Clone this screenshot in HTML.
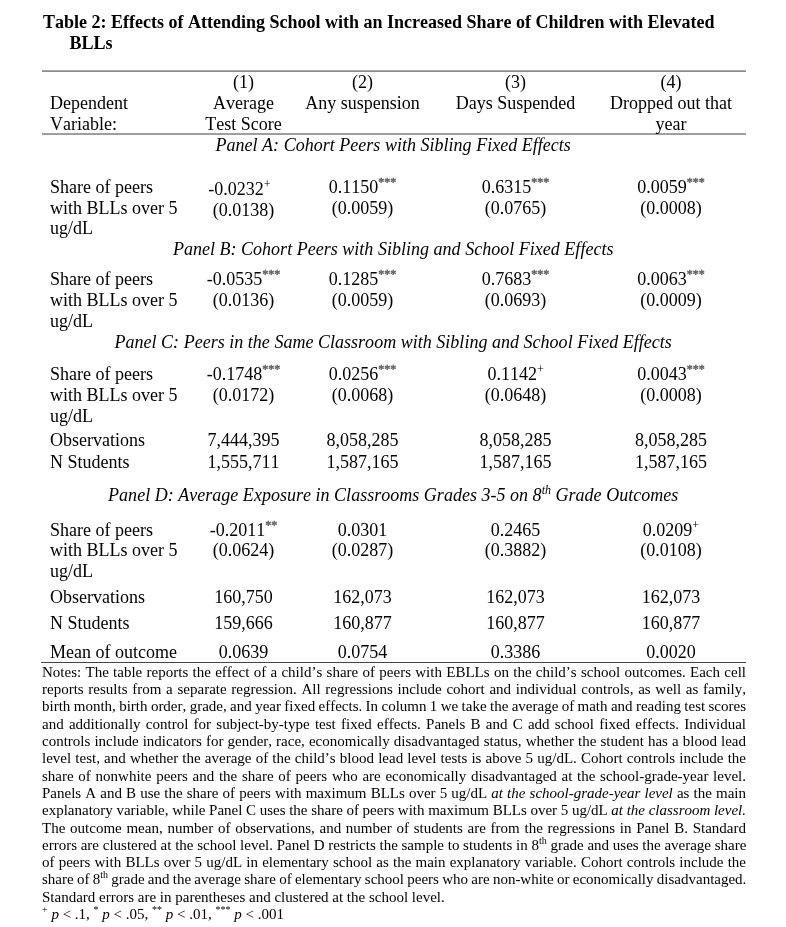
<!DOCTYPE html>
<html><head><meta charset="utf-8"><title>Table 2</title>
<style>
html,body{margin:0;padding:0;background:#fff;}
body{width:786px;height:927px;position:relative;overflow:hidden;font-family:"Liberation Serif","Times New Roman",serif;color:#000;font-kerning:none;filter:grayscale(1);}
.l{position:absolute;font-size:18px;line-height:20px;white-space:nowrap;}
.t{position:absolute;font-size:18px;line-height:20px;font-weight:bold;white-space:nowrap;}
.i{font-style:italic;}
.r{position:absolute;}
.s{font-size:12px;line-height:0;position:relative;top:-7.0px;}
.st{-webkit-text-stroke:0.5px #666;color:#555;}
.n{position:absolute;left:42px;width:704px;font-size:15px;line-height:17.25px;white-space:nowrap;}
.ns{font-size:10px;line-height:0;position:relative;top:-6px;}
</style></head>
<body>
<div class="t" style="top:12.00px;left:43px">Table 2: Effects of Attending School with an Increased Share of Children with Elevated</div>
<div class="t" style="top:33.00px;left:69.5px">BLLs</div>
<div class="r" style="top:70px;left:42px;width:704px;height:1px;background:#a8a8a8"></div>
<div class="r" style="top:71px;left:42px;width:704px;height:1px;background:#8c8c8c"></div>
<div class="r" style="top:133px;left:42px;width:704px;height:1px;background:#a0a0a0"></div>
<div class="r" style="top:134px;left:42px;width:704px;height:1px;background:#9c9c9c"></div>
<div class="r" style="top:662px;left:41px;width:705px;height:1px;background:#444444"></div>
<div class="l " style="top:72.00px;left:43.60px;width:400px;text-align:center;">(1)</div>
<div class="l " style="top:72.00px;left:162.60px;width:400px;text-align:center;">(2)</div>
<div class="l " style="top:72.00px;left:315.60px;width:400px;text-align:center;">(3)</div>
<div class="l " style="top:72.00px;left:471.00px;width:400px;text-align:center;">(4)</div>
<div class="l " style="top:93.00px;left:50.00px;">Dependent</div>
<div class="l " style="top:114.00px;left:50.00px;">Variable:</div>
<div class="l " style="top:93.00px;left:43.60px;width:400px;text-align:center;">Average</div>
<div class="l " style="top:114.00px;left:43.60px;width:400px;text-align:center;">Test Score</div>
<div class="l " style="top:93.00px;left:162.60px;width:400px;text-align:center;">Any suspension</div>
<div class="l " style="top:93.00px;left:315.60px;width:400px;text-align:center;">Days Suspended</div>
<div class="l " style="top:93.00px;left:471.00px;width:400px;text-align:center;">Dropped out that</div>
<div class="l " style="top:114.00px;left:471.00px;width:400px;text-align:center;">year</div>
<div class="l i" style="top:135.00px;left:43.20px;width:700px;text-align:center;letter-spacing:0.02px;">Panel A: Cohort Peers with Sibling Fixed Effects</div>
<div class="l " style="top:177.00px;left:50.00px;">Share of peers</div>
<div class="l " style="top:198.00px;left:50.00px;">with BLLs over 5</div>
<div class="l " style="top:218.00px;left:50.00px;">ug/dL</div>
<div class="l " style="top:179.00px;left:39.40px;width:400px;text-align:center;">-0.0232<span class="s">+</span></div>
<div class="l " style="top:200.00px;left:43.60px;width:400px;text-align:center;">(0.0138)</div>
<div class="l " style="top:177.00px;left:162.60px;width:400px;text-align:center;">0.1150<span class="s st">***</span></div>
<div class="l " style="top:198.00px;left:162.60px;width:400px;text-align:center;">(0.0059)</div>
<div class="l " style="top:177.00px;left:315.60px;width:400px;text-align:center;">0.6315<span class="s st">***</span></div>
<div class="l " style="top:198.00px;left:315.60px;width:400px;text-align:center;">(0.0765)</div>
<div class="l " style="top:177.00px;left:471.00px;width:400px;text-align:center;">0.0059<span class="s st">***</span></div>
<div class="l " style="top:198.00px;left:471.00px;width:400px;text-align:center;">(0.0008)</div>
<div class="l i" style="top:239.00px;left:43.20px;width:700px;text-align:center;letter-spacing:0.02px;">Panel B: Cohort Peers with Sibling and School Fixed Effects</div>
<div class="l " style="top:269.00px;left:50.00px;">Share of peers</div>
<div class="l " style="top:290.00px;left:50.00px;">with BLLs over 5</div>
<div class="l " style="top:311.00px;left:50.00px;">ug/dL</div>
<div class="l " style="top:269.00px;left:43.60px;width:400px;text-align:center;">-0.0535<span class="s st">***</span></div>
<div class="l " style="top:290.00px;left:43.60px;width:400px;text-align:center;">(0.0136)</div>
<div class="l " style="top:269.00px;left:162.60px;width:400px;text-align:center;">0.1285<span class="s st">***</span></div>
<div class="l " style="top:290.00px;left:162.60px;width:400px;text-align:center;">(0.0059)</div>
<div class="l " style="top:269.00px;left:315.60px;width:400px;text-align:center;">0.7683<span class="s st">***</span></div>
<div class="l " style="top:290.00px;left:315.60px;width:400px;text-align:center;">(0.0693)</div>
<div class="l " style="top:269.00px;left:471.00px;width:400px;text-align:center;">0.0063<span class="s st">***</span></div>
<div class="l " style="top:290.00px;left:471.00px;width:400px;text-align:center;">(0.0009)</div>
<div class="l i" style="top:332.00px;left:43.20px;width:700px;text-align:center;letter-spacing:0.02px;">Panel C: Peers in the Same Classroom with Sibling and School Fixed Effects</div>
<div class="l " style="top:364.00px;left:50.00px;">Share of peers</div>
<div class="l " style="top:385.00px;left:50.00px;">with BLLs over 5</div>
<div class="l " style="top:406.00px;left:50.00px;">ug/dL</div>
<div class="l " style="top:364.00px;left:43.60px;width:400px;text-align:center;">-0.1748<span class="s st">***</span></div>
<div class="l " style="top:385.00px;left:43.60px;width:400px;text-align:center;">(0.0172)</div>
<div class="l " style="top:364.00px;left:162.60px;width:400px;text-align:center;">0.0256<span class="s st">***</span></div>
<div class="l " style="top:385.00px;left:162.60px;width:400px;text-align:center;">(0.0068)</div>
<div class="l " style="top:364.00px;left:315.60px;width:400px;text-align:center;">0.1142<span class="s">+</span></div>
<div class="l " style="top:385.00px;left:315.60px;width:400px;text-align:center;">(0.0648)</div>
<div class="l " style="top:364.00px;left:471.00px;width:400px;text-align:center;">0.0043<span class="s st">***</span></div>
<div class="l " style="top:385.00px;left:471.00px;width:400px;text-align:center;">(0.0008)</div>
<div class="l " style="top:430.00px;left:50.00px;">Observations</div>
<div class="l " style="top:430.00px;left:43.60px;width:400px;text-align:center;">7,444,395</div>
<div class="l " style="top:430.00px;left:162.60px;width:400px;text-align:center;">8,058,285</div>
<div class="l " style="top:430.00px;left:315.60px;width:400px;text-align:center;">8,058,285</div>
<div class="l " style="top:430.00px;left:471.00px;width:400px;text-align:center;">8,058,285</div>
<div class="l " style="top:452.00px;left:50.00px;">N Students</div>
<div class="l " style="top:452.00px;left:43.60px;width:400px;text-align:center;">1,555,711</div>
<div class="l " style="top:452.00px;left:162.60px;width:400px;text-align:center;">1,587,165</div>
<div class="l " style="top:452.00px;left:315.60px;width:400px;text-align:center;">1,587,165</div>
<div class="l " style="top:452.00px;left:471.00px;width:400px;text-align:center;">1,587,165</div>
<div class="l i" style="top:485.00px;left:43.20px;width:700px;text-align:center;letter-spacing:0.02px;">Panel D: Average Exposure in Classrooms Grades 3-5 on 8<span class="s">th</span> Grade Outcomes</div>
<div class="l " style="top:520.00px;left:50.00px;">Share of peers</div>
<div class="l " style="top:540.00px;left:50.00px;">with BLLs over 5</div>
<div class="l " style="top:561.00px;left:50.00px;">ug/dL</div>
<div class="l " style="top:520.00px;left:43.60px;width:400px;text-align:center;">-0.2011<span class="s st">**</span></div>
<div class="l " style="top:540.00px;left:43.60px;width:400px;text-align:center;">(0.0624)</div>
<div class="l " style="top:520.00px;left:162.60px;width:400px;text-align:center;">0.0301</div>
<div class="l " style="top:540.00px;left:162.60px;width:400px;text-align:center;">(0.0287)</div>
<div class="l " style="top:520.00px;left:315.60px;width:400px;text-align:center;">0.2465</div>
<div class="l " style="top:540.00px;left:315.60px;width:400px;text-align:center;">(0.3882)</div>
<div class="l " style="top:520.00px;left:471.00px;width:400px;text-align:center;">0.0209<span class="s">+</span></div>
<div class="l " style="top:540.00px;left:471.00px;width:400px;text-align:center;">(0.0108)</div>
<div class="l " style="top:587.00px;left:50.00px;">Observations</div>
<div class="l " style="top:587.00px;left:43.60px;width:400px;text-align:center;">160,750</div>
<div class="l " style="top:587.00px;left:162.60px;width:400px;text-align:center;">162,073</div>
<div class="l " style="top:587.00px;left:315.60px;width:400px;text-align:center;">162,073</div>
<div class="l " style="top:587.00px;left:471.00px;width:400px;text-align:center;">162,073</div>
<div class="l " style="top:613.00px;left:50.00px;">N Students</div>
<div class="l " style="top:613.00px;left:43.60px;width:400px;text-align:center;">159,666</div>
<div class="l " style="top:613.00px;left:162.60px;width:400px;text-align:center;">160,877</div>
<div class="l " style="top:613.00px;left:315.60px;width:400px;text-align:center;">160,877</div>
<div class="l " style="top:613.00px;left:471.00px;width:400px;text-align:center;">160,877</div>
<div class="l " style="top:642.00px;left:50.00px;">Mean of outcome</div>
<div class="l " style="top:642.00px;left:43.60px;width:400px;text-align:center;">0.0639</div>
<div class="l " style="top:642.00px;left:162.60px;width:400px;text-align:center;">0.0754</div>
<div class="l " style="top:642.00px;left:315.60px;width:400px;text-align:center;">0.3386</div>
<div class="l " style="top:642.00px;left:471.00px;width:400px;text-align:center;">0.0020</div>
<div class="n" style="top:664px;word-spacing:0.565px">Notes: The table reports the effect of a child&#8217;s share of peers with EBLLs on the child&#8217;s school outcomes. Each cell</div>
<div class="n" style="top:681px;word-spacing:0.964px">reports results from a separate regression. All regressions include cohort and individual controls, as well as family,</div>
<div class="n" style="top:698px;word-spacing:-0.372px">birth month, birth order, grade, and year fixed effects. In column 1 we take the average of math and reading test scores</div>
<div class="n" style="top:716px;word-spacing:1.512px">and additionally control for subject-by-type test fixed effects. Panels B and C add school fixed effects. Individual</div>
<div class="n" style="top:733px;word-spacing:0.338px">controls include indicators for gender, race, economically disadvantaged status, whether the student has a blood lead</div>
<div class="n" style="top:750px;word-spacing:0.418px">level test, and whether the average of the child&#8217;s blood lead level tests is above 5 ug/dL. Cohort controls include the</div>
<div class="n" style="top:768px;word-spacing:0.971px">share of nonwhite peers and the share of peers who are economically disadvantaged at the school-grade-year level.</div>
<div class="n" style="top:785px;word-spacing:0.376px">Panels A and B use the share of peers with maximum BLLs over 5 ug/dL <i>at the school-grade-year level</i> as the main</div>
<div class="n" style="top:802px;word-spacing:-0.11px">explanatory variable, while Panel C uses the share of peers with maximum BLLs over 5 ug/dL <i>at the classroom level.</i></div>
<div class="n" style="top:820px;word-spacing:0.981px">The outcome mean, number of observations, and number of students are from the regressions in Panel B. Standard</div>
<div class="n" style="top:837px;word-spacing:-0.031px">errors are clustered at the school level. Panel D restricts the sample to students in 8<span class="ns">th</span> grade and uses the average share</div>
<div class="n" style="top:854px;word-spacing:0.441px">of peers with BLLs over 5 ug/dL in elementary school as the main explanatory variable. Cohort controls include the</div>
<div class="n" style="top:871px;word-spacing:-0.478px">share of 8<span class="ns">th</span> grade and the average share of elementary school peers who are non-white or economically disadvantaged.</div>
<div class="n" style="top:889px">Standard errors are in parentheses and clustered at the school level.</div>
<div class="n" style="top:906px"><span class="ns">+</span> <i>p</i> &lt; .1, <span class="ns">*</span> <i>p</i> &lt; .05, <span class="ns">**</span> <i>p</i> &lt; .01, <span class="ns">***</span> <i>p</i> &lt; .001</div>
</body></html>
